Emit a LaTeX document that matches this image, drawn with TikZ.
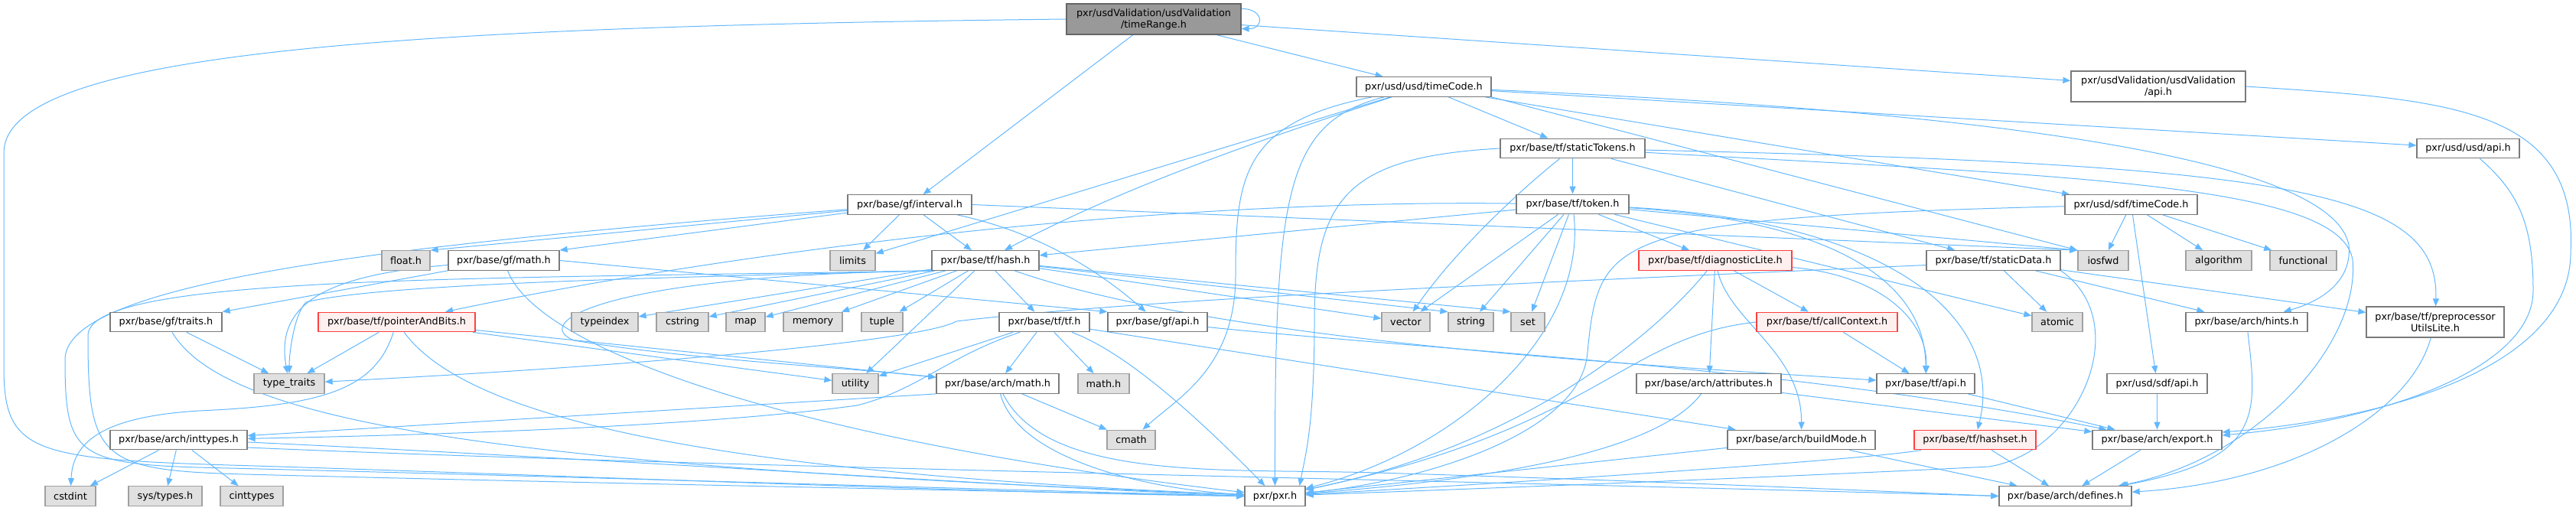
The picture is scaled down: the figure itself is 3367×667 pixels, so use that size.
\documentclass[tikz,border=0pt]{standalone}
\usepackage{fontspec}
\setmainfont{DejaVu Sans}
\usepackage{tikz}
\usetikzlibrary{arrows.meta}
\pgfdeclarelayer{background}
\pgfsetlayers{background,main}
\definecolor{edgeblue}{HTML}{63B8FF}
\definecolor{fileline}{HTML}{7A7A7A}
\definecolor{sysline}{HTML}{A0A0A0}
\definecolor{sysfill}{HTML}{E0E0E0}
\definecolor{badline}{HTML}{FF4040}
\definecolor{badfill}{HTML}{FFF0F0}
\definecolor{rootfill}{HTML}{999999}
\definecolor{rootline}{HTML}{666666}

\begin{document}
\begin{tikzpicture}[x=1pt,y=-1pt,>={Triangle[length=10pt,width=8pt]},
    hfile/.style={draw=fileline,fill=white,line width=1.3pt,inner sep=0pt,minimum height=25.5pt,align=center,font=\fontsize{12.8}{15}\selectfont},
    sysfile/.style={hfile,draw=sysline,fill=sysfill},
    badfile/.style={hfile,draw=badline,fill=badfill},
    rootfile/.style={hfile,draw=rootline,fill=rootfill,minimum height=40pt},
    inc/.style={->,draw=edgeblue,line width=1pt}]
\useasboundingbox (0,0) rectangle (3367,667);

\node[rootfile,minimum width=228pt] (root) at (1508,25) {pxr/usdValidation/usdValidation\\/timeRange.h};
\node[hfile,minimum width=176pt] (usdtc) at (1861,113.5) {pxr/usd/usd/timeCode.h};
\node[hfile,minimum width=228pt,minimum height=40pt] (uvapi) at (2821,113) {pxr/usdValidation/usdValidation\\/api.h};
\node[hfile,minimum width=189pt] (sttok) at (2055.5,194) {pxr/base/tf/staticTokens.h};
\node[hfile,minimum width=134pt] (usdapi) at (3226,194) {pxr/usd/usd/api.h};
\node[hfile,minimum width=162pt] (interval) at (1189,267.5) {pxr/base/gf/interval.h};
\node[hfile,minimum width=147pt] (token) at (2055.5,267) {pxr/base/tf/token.h};
\node[hfile,minimum width=173pt] (sdftc) at (2785.5,267.5) {pxr/usd/sdf/timeCode.h};

\node[sysfile,minimum width=63pt] (floath) at (530.5,340.5) {float.h};
\node[hfile,minimum width=145pt] (gfmath) at (658.5,340.5) {pxr/base/gf/math.h};
\node[sysfile,minimum width=59pt] (limits) at (1114.5,340.5) {limits};
\node[hfile,minimum width=140pt] (hash) at (1288,340.5) {pxr/base/tf/hash.h};
\node[badfile,minimum width=200pt] (diaglite) at (2242,340.5) {pxr/base/tf/diagnosticLite.h};
\node[hfile,minimum width=175pt] (staticdata) at (2605.5,340.5) {pxr/base/tf/staticData.h};
\node[sysfile,minimum width=66pt] (iosfwd) at (2749,340.5) {iosfwd};
\node[sysfile,minimum width=86pt] (algorithm) at (2900,340.5) {algorithm};
\node[sysfile,minimum width=87pt] (functional) at (3010.5,340.5) {functional};

\node[hfile,minimum width=146pt] (gftraits) at (217,421) {pxr/base/gf/traits.h};
\node[badfile,minimum width=205pt] (ptrbits) at (518.5,421) {pxr/base/tf/pointerAndBits.h};
\node[sysfile,minimum width=87pt] (typeindex) at (790.5,421) {typeindex};
\node[sysfile,minimum width=68pt] (cstring) at (892,421) {cstring};
\node[sysfile,minimum width=51pt] (map) at (974.5,421) {map};
\node[sysfile,minimum width=77pt] (memory) at (1062.5,421) {memory};
\node[sysfile,minimum width=54pt] (tuple) at (1153,421) {tuple};
\node[hfile,minimum width=118pt] (tftf) at (1365,421) {pxr/base/tf/tf.h};
\node[hfile,minimum width=130pt] (gfapi) at (1513,421) {pxr/base/gf/api.h};
\node[sysfile,minimum width=63pt] (vector) at (1837.5,421) {vector};
\node[sysfile,minimum width=59pt] (string) at (1922.5,421) {string};
\node[sysfile,minimum width=44pt] (set) at (1997,421) {set};
\node[badfile,minimum width=184pt] (callctx) at (2388,421) {pxr/base/tf/callContext.h};
\node[sysfile,minimum width=66pt] (atomic) at (2689,421) {atomic};
\node[hfile,minimum width=159pt] (hints) at (2936.5,421) {pxr/base/arch/hints.h};
\node[hfile,minimum width=180pt,minimum height=40pt] (pputils) at (3183,421) {pxr/base/tf/preprocessor\\UtilsLite.h};

\node[sysfile,minimum width=92pt] (typetraits) at (378,501.5) {type\_traits};
\node[sysfile,minimum width=60pt] (utility) at (1118,501.5) {utility};
\node[hfile,minimum width=160pt] (archmath) at (1304,501.5) {pxr/base/arch/math.h};
\node[sysfile,minimum width=67pt] (mathh) at (1442.5,501.5) {math.h};
\node[hfile,minimum width=189pt] (attrs) at (2233.5,501.5) {pxr/base/arch/attributes.h};
\node[hfile,minimum width=128pt] (tfapi) at (2517,501.5) {pxr/base/tf/api.h};
\node[hfile,minimum width=131pt] (sdfapi) at (2819.5,501.5) {pxr/usd/sdf/api.h};

\node[hfile,minimum width=179pt] (inttypes) at (233.5,575) {pxr/base/arch/inttypes.h};
\node[sysfile,minimum width=63pt] (cmath) at (1478.5,575) {cmath};
\node[hfile,minimum width=193pt] (buildmode) at (2354.5,575) {pxr/base/arch/buildMode.h};
\node[badfile,minimum width=159pt] (hashset) at (2581.5,575) {pxr/base/tf/hashset.h};
\node[hfile,minimum width=169pt] (export) at (2819.5,575) {pxr/base/arch/export.h};

\node[sysfile,minimum width=66pt] (cstdint) at (92,648.5) {cstdint};
\node[sysfile,minimum width=96pt] (systypes) at (216,648.5) {sys/types.h};
\node[sysfile,minimum width=82pt] (cinttypes) at (329,648.5) {cinttypes};
\node[hfile,minimum width=79pt] (pxr) at (1666.5,648.5) {pxr/pxr.h};
\node[hfile,minimum width=173pt] (defines) at (2699.5,648.5) {pxr/base/arch/defines.h};

\begin{pgfonlayer}{background}
\draw[inc] ([yshift=-7pt]root.north east) .. controls +(30pt,0pt) and +(30pt,0pt) .. ([yshift=8pt]root.south east);
\draw[inc] (root.west) .. controls (500,35) and (5,70) .. (5,200) -- (5,480) .. controls (5,590) and (40,600) .. (300,608) .. controls (700,620) and (1300,645) .. (pxr.west);
\draw[inc] (root) -- (interval);
\draw[inc] (root) -- (usdtc);
\draw[inc] (root) -- (uvapi);
\draw[inc] (uvapi.east) .. controls (3200,130) and (3370,140) .. (3360,330) .. controls (3360,470) and (3150,545) .. ([yshift=10pt]export.east);
\draw[inc] (usdapi) .. controls (3290,250) and (3311,290) .. (3311,380) .. controls (3311,480) and (3120,550) .. ([yshift=6pt]export.east);

\draw[inc] (usdtc) .. controls (1680,160) and (1666,250) .. (pxr);
\draw[inc] (usdtc) .. controls (1625,160) and (1615,230) .. (1615,360) .. controls (1615,480) and (1540,520) .. (cmath);
\draw[inc] (usdtc) -- (limits);
\draw[inc] (usdtc) .. controls (1560,210) and (1420,270) .. (hash);
\draw[inc] (usdtc) -- (sttok);
\draw[inc] (usdtc) -- (usdapi);
\draw[inc] (usdtc) -- (sdftc);
\draw[inc] (usdtc.south east) -- (iosfwd.north west);
\draw[inc] (usdtc) .. controls (2700,150) and (3050,220) .. (3070,320) .. controls (3075,370) and (3030,395) .. (hints);

\draw[inc] (sttok) -- (token);
\draw[inc] (sttok) .. controls (1985,250) and (1900,330) .. (vector);
\draw[inc] (sttok) -- (staticdata);
\draw[inc] (sttok) .. controls (3000,215) and (3188,250) .. (pputils);
\draw[inc] (sttok) .. controls (2700,230) and (3060,240) .. (3075,340) .. controls (3085,450) and (2950,600) .. (defines);
\draw[inc] (sttok.west) .. controls (1760,205) and (1718,260) .. (1718,420) .. controls (1718,560) and (1705,600) .. ([xshift=-8pt]pxr.north east);

\draw[inc] (token) .. controls (2075,440) and (1900,590) .. (pxr);
\draw[inc] (token) -- (vector);
\draw[inc] (token) -- (string);
\draw[inc] (token) -- (set);
\draw[inc] (token) -- (diaglite);
\draw[inc] (token) -- (hash);
\draw[inc] (token) .. controls (1500,260) and (950,330) .. (ptrbits);
\draw[inc] (token) -- (atomic);
\draw[inc] (token) -- (iosfwd.north west);
\draw[inc] (token) .. controls (2420,290) and (2517,380) .. (tfapi);
\draw[inc] (token) .. controls (2480,290) and (2620,420) .. (hashset);

\draw[inc] (diaglite) .. controls (2170,430) and (2000,580) .. (pxr);
\draw[inc] (diaglite) -- (attrs);
\draw[inc] (diaglite) .. controls (2260,420) and (2355,460) .. (buildmode);
\draw[inc] (diaglite) -- (callctx);
\draw[inc] (diaglite) .. controls (2460,360) and (2520,420) .. (tfapi);
\draw[inc] (callctx) -- (tfapi);
\draw[inc] (callctx.west) .. controls (2120,440) and (2090,560) .. (pxr);
\draw[inc] (attrs) .. controls (2160,600) and (1900,630) .. (pxr);
\draw[inc] (attrs) -- (export);
\draw[inc] (buildmode) -- (pxr);
\draw[inc] (buildmode) -- (defines);
\draw[inc] (hashset) .. controls (2450,600) and (2000,630) .. (pxr);
\draw[inc] (hashset) -- (defines);
\draw[inc] (tfapi) -- (export);
\draw[inc] (sdfapi) -- (export);
\draw[inc] (export) -- (defines);
\draw[inc] (hints) .. controls (2950,540) and (2960,600) .. (defines);
\draw[inc] (pputils) .. controls (3150,540) and (3000,630) .. (defines);

\draw[inc] (staticdata) -- (atomic);
\draw[inc] (staticdata) -- (hints);
\draw[inc] (staticdata) -- (pputils);
\draw[inc] (staticdata.south east) .. controls (2790,420) and (2720,590) .. (2600,610) .. controls (2300,625) and (1900,640) .. (pxr);
\draw[inc] ([yshift=-6pt]staticdata.west) .. controls (2000,370) and (1500,390) .. (1250,420) .. controls (1200,448) and (800,480) .. (typetraits);

\draw[inc] (sdftc) .. controls (2100,285) and (2090,310) .. (2075,460) .. controls (2068,570) and (1850,630) .. (pxr);
\draw[inc] (sdftc) -- (sdfapi);
\draw[inc] (sdftc) -- (iosfwd);
\draw[inc] (sdftc) -- (algorithm);
\draw[inc] (sdftc) -- (functional);

\draw[inc] (interval) -- (floath.north east);
\draw[inc] (interval) -- (gfmath.north east);
\draw[inc] (interval) -- (limits);
\draw[inc] (interval) -- (hash);
\draw[inc] (interval) .. controls (1340,300) and (1420,340) .. (gfapi);
\draw[inc] (interval.east) -- (iosfwd.north west);
\draw[inc] (interval) .. controls (500,320) and (85,370) .. (85,470) .. controls (85,600) and (100,608) .. (300,612) .. controls (700,622) and (1300,640) .. (pxr.west);

\draw[inc] (gfmath) -- (gftraits);
\draw[inc] (gfmath) .. controls (420,360) and (360,400) .. (typetraits);
\draw[inc] (gfmath.east) -- (gfapi.north west);
\draw[inc] (gfmath) .. controls (700,450) and (1000,570) .. (pxr);
\draw[inc] (gftraits) -- (typetraits);
\draw[inc] (gftraits) .. controls (300,560) and (700,610) .. (pxr);

\draw[inc] (ptrbits) -- (typetraits);
\draw[inc] (ptrbits) .. controls (490,510) and (420,530) .. (260,537) .. controls (130,545) and (95,580) .. (cstdint);
\draw[inc] (ptrbits) .. controls (620,560) and (1000,620) .. (pxr);
\draw[inc] (ptrbits) -- (utility);
\draw[inc] (ptrbits) -- (archmath);

\draw[inc] (hash) -- (typeindex);
\draw[inc] (hash) -- (cstring);
\draw[inc] (hash) -- (map);
\draw[inc] (hash) -- (memory);
\draw[inc] (hash) -- (tuple);
\draw[inc] (hash) -- (utility);
\draw[inc] (hash) -- (tftf);
\draw[inc] (hash) -- (vector);
\draw[inc] (hash) -- (string.north west);
\draw[inc] (hash) -- (set.north west);
\draw[inc] (hash.south west) .. controls (900,362) and (500,370) .. (400,395) .. controls (385,410) and (378,460) .. (typetraits);
\draw[inc] (hash.south west) .. controls (800,360) and (690,420) .. (750,445) .. controls (900,470) and (1100,480) .. (archmath);
\draw[inc] (hash.south west) .. controls (600,365) and (110,360) .. (115,440) .. controls (115,600) and (130,615) .. (320,620) .. controls (700,630) and (1300,642) .. (pxr.west);
\draw[inc] (hash) .. controls (1600,450) and (2200,480) .. (tfapi);

\draw[inc] (tftf) -- (utility);
\draw[inc] (tftf) -- (archmath);
\draw[inc] (tftf) -- (mathh);
\draw[inc] (tftf) .. controls (1470,460) and (1560,540) .. (pxr);
\draw[inc] (tftf) -- (buildmode);
\draw[inc] ([xshift=-32pt]tftf.south) .. controls (1240,465) and (1200,510) .. (1120,530) .. controls (900,560) and (500,570) .. (inttypes);
\draw[inc] (gfapi) .. controls (1900,460) and (2350,480) .. (export);

\draw[inc] (archmath.south west) -- (inttypes);
\draw[inc] (archmath) -- (cmath);
\draw[inc] (archmath) .. controls (1330,600) and (1500,640) .. (pxr);
\draw[inc] (archmath) .. controls (1370,630) and (1600,612) .. (1800,618) .. controls (2200,630) and (2450,642) .. (defines.west);

\draw[inc] (inttypes) -- (cstdint);
\draw[inc] (inttypes) -- (systypes);
\draw[inc] (inttypes) -- (cinttypes);
\draw[inc] ([yshift=-3pt]inttypes.east) .. controls (800,600) and (1300,635) .. (pxr.west);
\draw[inc] ([yshift=-10pt]inttypes.east) .. controls (900,610) and (1800,625) .. (defines.west);
\end{pgfonlayer}
\end{tikzpicture}
\end{document}
